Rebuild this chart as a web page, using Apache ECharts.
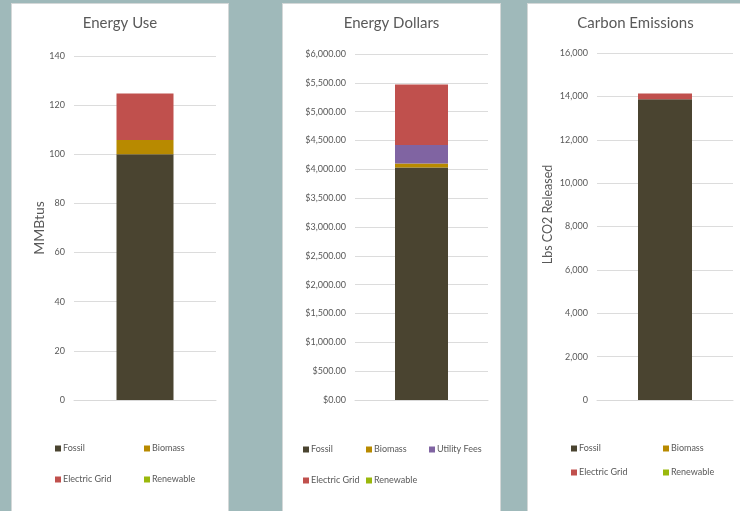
<!DOCTYPE html>
<html><head><meta charset="utf-8">
<script src="https://cdn.jsdelivr.net/npm/echarts@6/dist/echarts.min.js"></script>
<style>
html,body{margin:0;padding:0}
body{background:#9fb9ba;width:740px;height:511px;overflow:hidden;position:relative}
.p{position:absolute;background:#fff;box-shadow:0 0 0 1px #d4d8d8}
</style></head><body>
<div id="c1" class="p" style="left:12px;top:4px;width:216px;height:510px"></div>
<div id="c2" class="p" style="left:283px;top:4px;width:217px;height:510px"></div>
<div id="c3" class="p" style="left:528px;top:4px;width:215px;height:510px"></div>
<script>
// ---- data ----
const categories = [''];
const useFossil = [100];
const useBiomass = [5.8];
const useGrid = [18.9];
const useRenewable = [0];

const dolFossil = [4030];
const dolBiomass = [70];
const dolUtility = [320];
const dolGrid = [1050];
const dolRenewable = [0];

const co2Fossil = [13870];
const co2Biomass = [0];
const co2Grid = [260];
const co2Renewable = [0];

const titles = ['Energy Use', 'Energy Dollars', 'Carbon Emissions'];
const yNames = ['MMBtus', '', 'Lbs CO2 Released'];

// ---- styles ----
const FONT = 'Lato, "Noto Sans", sans-serif';
const TXT = '#595959';
const COLORS = {Fossil:'#4a4430', Biomass:'#b88a00', 'Utility Fees':'#8064a2', 'Electric Grid':'#c0504d', Renewable:'#9ab80c'};

function fmtComma(v){ return Math.round(v).toString().replace(/\B(?=(\d{3})+(?!\d))/g, ','); }
function fmtDollar(v){ return '$' + fmtComma(v) + '.00'; }

function legendItem(name, left, top){
  return {data:[name], left:left, top:top, icon:'rect', itemWidth:6, itemHeight:6, padding:0,
    selectedMode:false,
    textStyle:{fontFamily:FONT, fontSize:9, color:TXT, padding:[0,0,0,-3]}};
}

function build(el, cfg){
  const chart = echarts.init(document.getElementById(el), null, {renderer:'canvas'});
  const series = cfg.series.map(s => ({
    name:s.name, type:'bar', stack:'t', data:s.data, barWidth:cfg.barWidth,
    itemStyle:{color:COLORS[s.name]}, emphasis:{disabled:true}
  }));
  chart.setOption({
    animation:false,
    textStyle:{fontFamily:FONT},
    title:{text:cfg.title, left:'center', top:7, textStyle:{fontFamily:FONT, fontSize:15, fontWeight:'normal', color:TXT}},
    grid:{left:cfg.grid[0], right:cfg.grid[1], top:cfg.grid[2], bottom:cfg.grid[3]},
    legend:cfg.legends.map(l => legendItem(l[0], l[1], l[2])),
    xAxis:{type:'category', data:categories, axisLine:{lineStyle:{color:'#d9d9d9'}}, axisTick:{show:false}, axisLabel:{show:false}},
    yAxis:{type:'value', min:0, max:cfg.max, interval:cfg.interval,
      name:cfg.yName, nameLocation:'middle', nameGap:cfg.nameGap, nameRotate:90, nameMoveOverlap:false,
      nameTextStyle:{fontFamily:FONT, fontSize:cfg.nameSize, color:TXT, padding:cfg.namePad},
      axisLine:{show:false}, axisTick:{show:false},
      axisLabel:{fontFamily:FONT, fontSize:9, color:TXT, margin:9, formatter:cfg.fmt},
      splitLine:{lineStyle:{color:'#dcdcdc'}}},
    series:series
  });
}

build('c1', {
  title:titles[0], yName:yNames[0], nameGap:28, nameSize:14, namePad:[0,0,0,0], max:140, interval:20, barWidth:57,
  fmt:v=>String(v), grid:[62,12,52,114],
  series:[{name:'Fossil',data:useFossil},{name:'Biomass',data:useBiomass},{name:'Electric Grid',data:useGrid},{name:'Renewable',data:useRenewable}],
  legends:[['Fossil',43,440],['Biomass',132,440],['Electric Grid',43,471],['Renewable',132,471]]
});
build('c2', {
  title:titles[1], yName:yNames[1], nameGap:30, nameSize:13, namePad:[0,0,0,0], max:6000, interval:500, barWidth:53,
  fmt:fmtDollar, grid:[72,12,50,114],
  series:[{name:'Fossil',data:dolFossil},{name:'Biomass',data:dolBiomass},{name:'Utility Fees',data:dolUtility},{name:'Electric Grid',data:dolGrid},{name:'Renewable',data:dolRenewable}],
  legends:[['Fossil',20,441],['Biomass',83,441],['Utility Fees',146,441],['Electric Grid',20,472],['Renewable',83,472]]
});
build('c3', {
  title:titles[2], yName:yNames[2], nameGap:43, nameSize:12.5, namePad:[0,0,0,24], max:16000, interval:2000, barWidth:54,
  fmt:fmtComma, grid:[69,10,49,114],
  series:[{name:'Fossil',data:co2Fossil},{name:'Biomass',data:co2Biomass},{name:'Electric Grid',data:co2Grid},{name:'Renewable',data:co2Renewable}],
  legends:[['Fossil',43,440],['Biomass',135,440],['Electric Grid',43,464],['Renewable',135,464]]
});
</script>
</body></html>
